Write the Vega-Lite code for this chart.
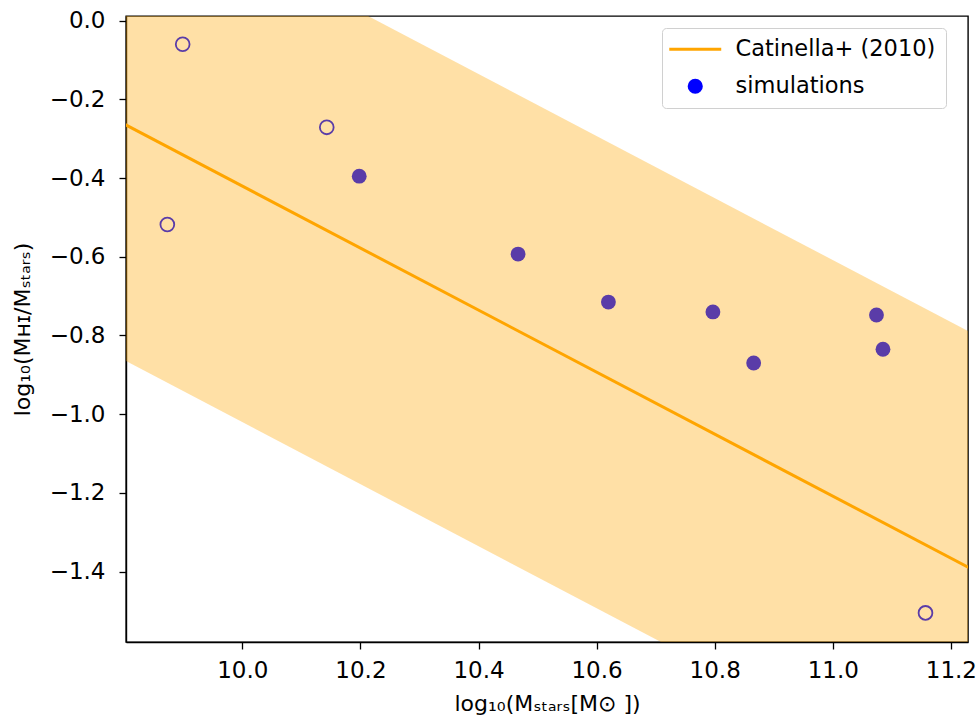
{
  "$schema": "https://vega.github.io/schema/vega-lite/v6.json",
  "width": 842,
  "height": 626,
  "autosize": {"type": "none"},
  "padding": {"left": 126, "top": 16, "right": 9, "bottom": 78},
  "background": "white",
  "config": {
    "font": "DejaVu Sans",
    "view": {"stroke": "black", "strokeWidth": 1.4},
    "axis": {
      "grid": false,
      "domainColor": "black",
      "domainWidth": 1.4,
      "tickColor": "black",
      "tickWidth": 1.3,
      "tickSize": 7,
      "labelColor": "black",
      "labelFontSize": 23,
      "labelFont": "DejaVu Sans",
      "titleColor": "black",
      "titleFontSize": 22,
      "titleFont": "DejaVu Sans",
      "titleFontWeight": "normal"
    }
  },
  "datasets": {
    "relation": [
      {"x": 9.80, "y": -0.2626, "lo": -0.8626, "hi": 0.3374},
      {"x": 11.23, "y": -1.3895, "lo": -1.9895, "hi": -0.7895}
    ],
    "filled": [
      {"x": 10.198, "y": -0.395},
      {"x": 10.467, "y": -0.593},
      {"x": 10.620, "y": -0.715},
      {"x": 10.797, "y": -0.740},
      {"x": 10.866, "y": -0.870},
      {"x": 11.074, "y": -0.748},
      {"x": 11.085, "y": -0.835}
    ],
    "open": [
      {"x": 9.899, "y": -0.060},
      {"x": 10.143, "y": -0.271},
      {"x": 9.873, "y": -0.518},
      {"x": 11.157, "y": -1.505}
    ]
  },
  "layer": [
    {
      "data": {"name": "relation"},
      "mark": {"type": "area", "color": "orange", "opacity": 0.35, "clip": true},
      "encoding": {
        "x": {
          "field": "x", "type": "quantitative",
          "scale": {"domain": [9.803, 11.229], "nice": false, "zero": false},
          "axis": {
            "values": [10.0, 10.2, 10.4, 10.6, 10.8, 11.0, 11.2],
            "format": ".1f",
            "labelPadding": 10,
            "title": "log₁₀(Mₛₜₐᵣₛ[M⊙ ])",
            "titlePadding": 11
          }
        },
        "y": {
          "field": "hi", "type": "quantitative",
          "scale": {"domain": [-1.579, 0.012], "nice": false, "zero": false},
          "axis": {
            "values": [0.0, -0.2, -0.4, -0.6, -0.8, -1.0, -1.2, -1.4],
            "format": ".1f",
            "labelPadding": 14,
            "title": "log₁₀(Mʜɪ/Mₛₜₐᵣₛ)",
            "titlePadding": 15
          }
        },
        "y2": {"field": "lo"}
      }
    },
    {
      "data": {"name": "relation"},
      "mark": {"type": "line", "strokeWidth": 3, "clip": true},
      "encoding": {
        "x": {"field": "x", "type": "quantitative"},
        "y": {"field": "y", "type": "quantitative"},
        "color": {
          "datum": "Catinella+ (2010)",
          "type": "nominal",
          "scale": {"domain": ["Catinella+ (2010)", "simulations"], "range": ["orange", "blue"]},
          "legend": {
            "title": null,
            "orient": "none",
            "legendX": 536,
            "legendY": 12,
            "fillColor": "rgba(255,255,255,0.8)",
            "strokeColor": "#d0d0d0",
            "cornerRadius": 4,
            "padding": 10,
            "labelFontSize": 22.5,
            "labelColor": "black",
            "labelLimit": 400,
            "labelOffset": 29,
            "symbolOffset": 12,
            "rowPadding": 14,
            "symbolType": "stroke",
            "symbolSize": 2700,
            "symbolStrokeWidth": 3,
            "encode": {
              "symbols": {
                "update": {
                  "shape": {"signal": "datum.value === 'simulations' ? 'circle' : 'stroke'"},
                  "size": {"signal": "datum.value === 'simulations' ? 230 : 2700"},
                  "fill": {"signal": "datum.value === 'simulations' ? 'blue' : 'transparent'"},
                  "strokeWidth": {"signal": "datum.value === 'simulations' ? 0 : 3"}
                }
              }
            }
          }
        }
      }
    },
    {
      "data": {"name": "open"},
      "mark": {"type": "point", "shape": "circle", "filled": false, "size": 190, "strokeWidth": 1.8, "color": "#5a3ca8", "opacity": 1},
      "encoding": {
        "x": {"field": "x", "type": "quantitative"},
        "y": {"field": "y", "type": "quantitative"}
      }
    },
    {
      "data": {"name": "filled"},
      "mark": {"type": "point", "shape": "circle", "filled": true, "size": 220, "color": "#5a3ca8", "opacity": 1},
      "encoding": {
        "x": {"field": "x", "type": "quantitative"},
        "y": {"field": "y", "type": "quantitative"}
      }
    }
  ]
}
